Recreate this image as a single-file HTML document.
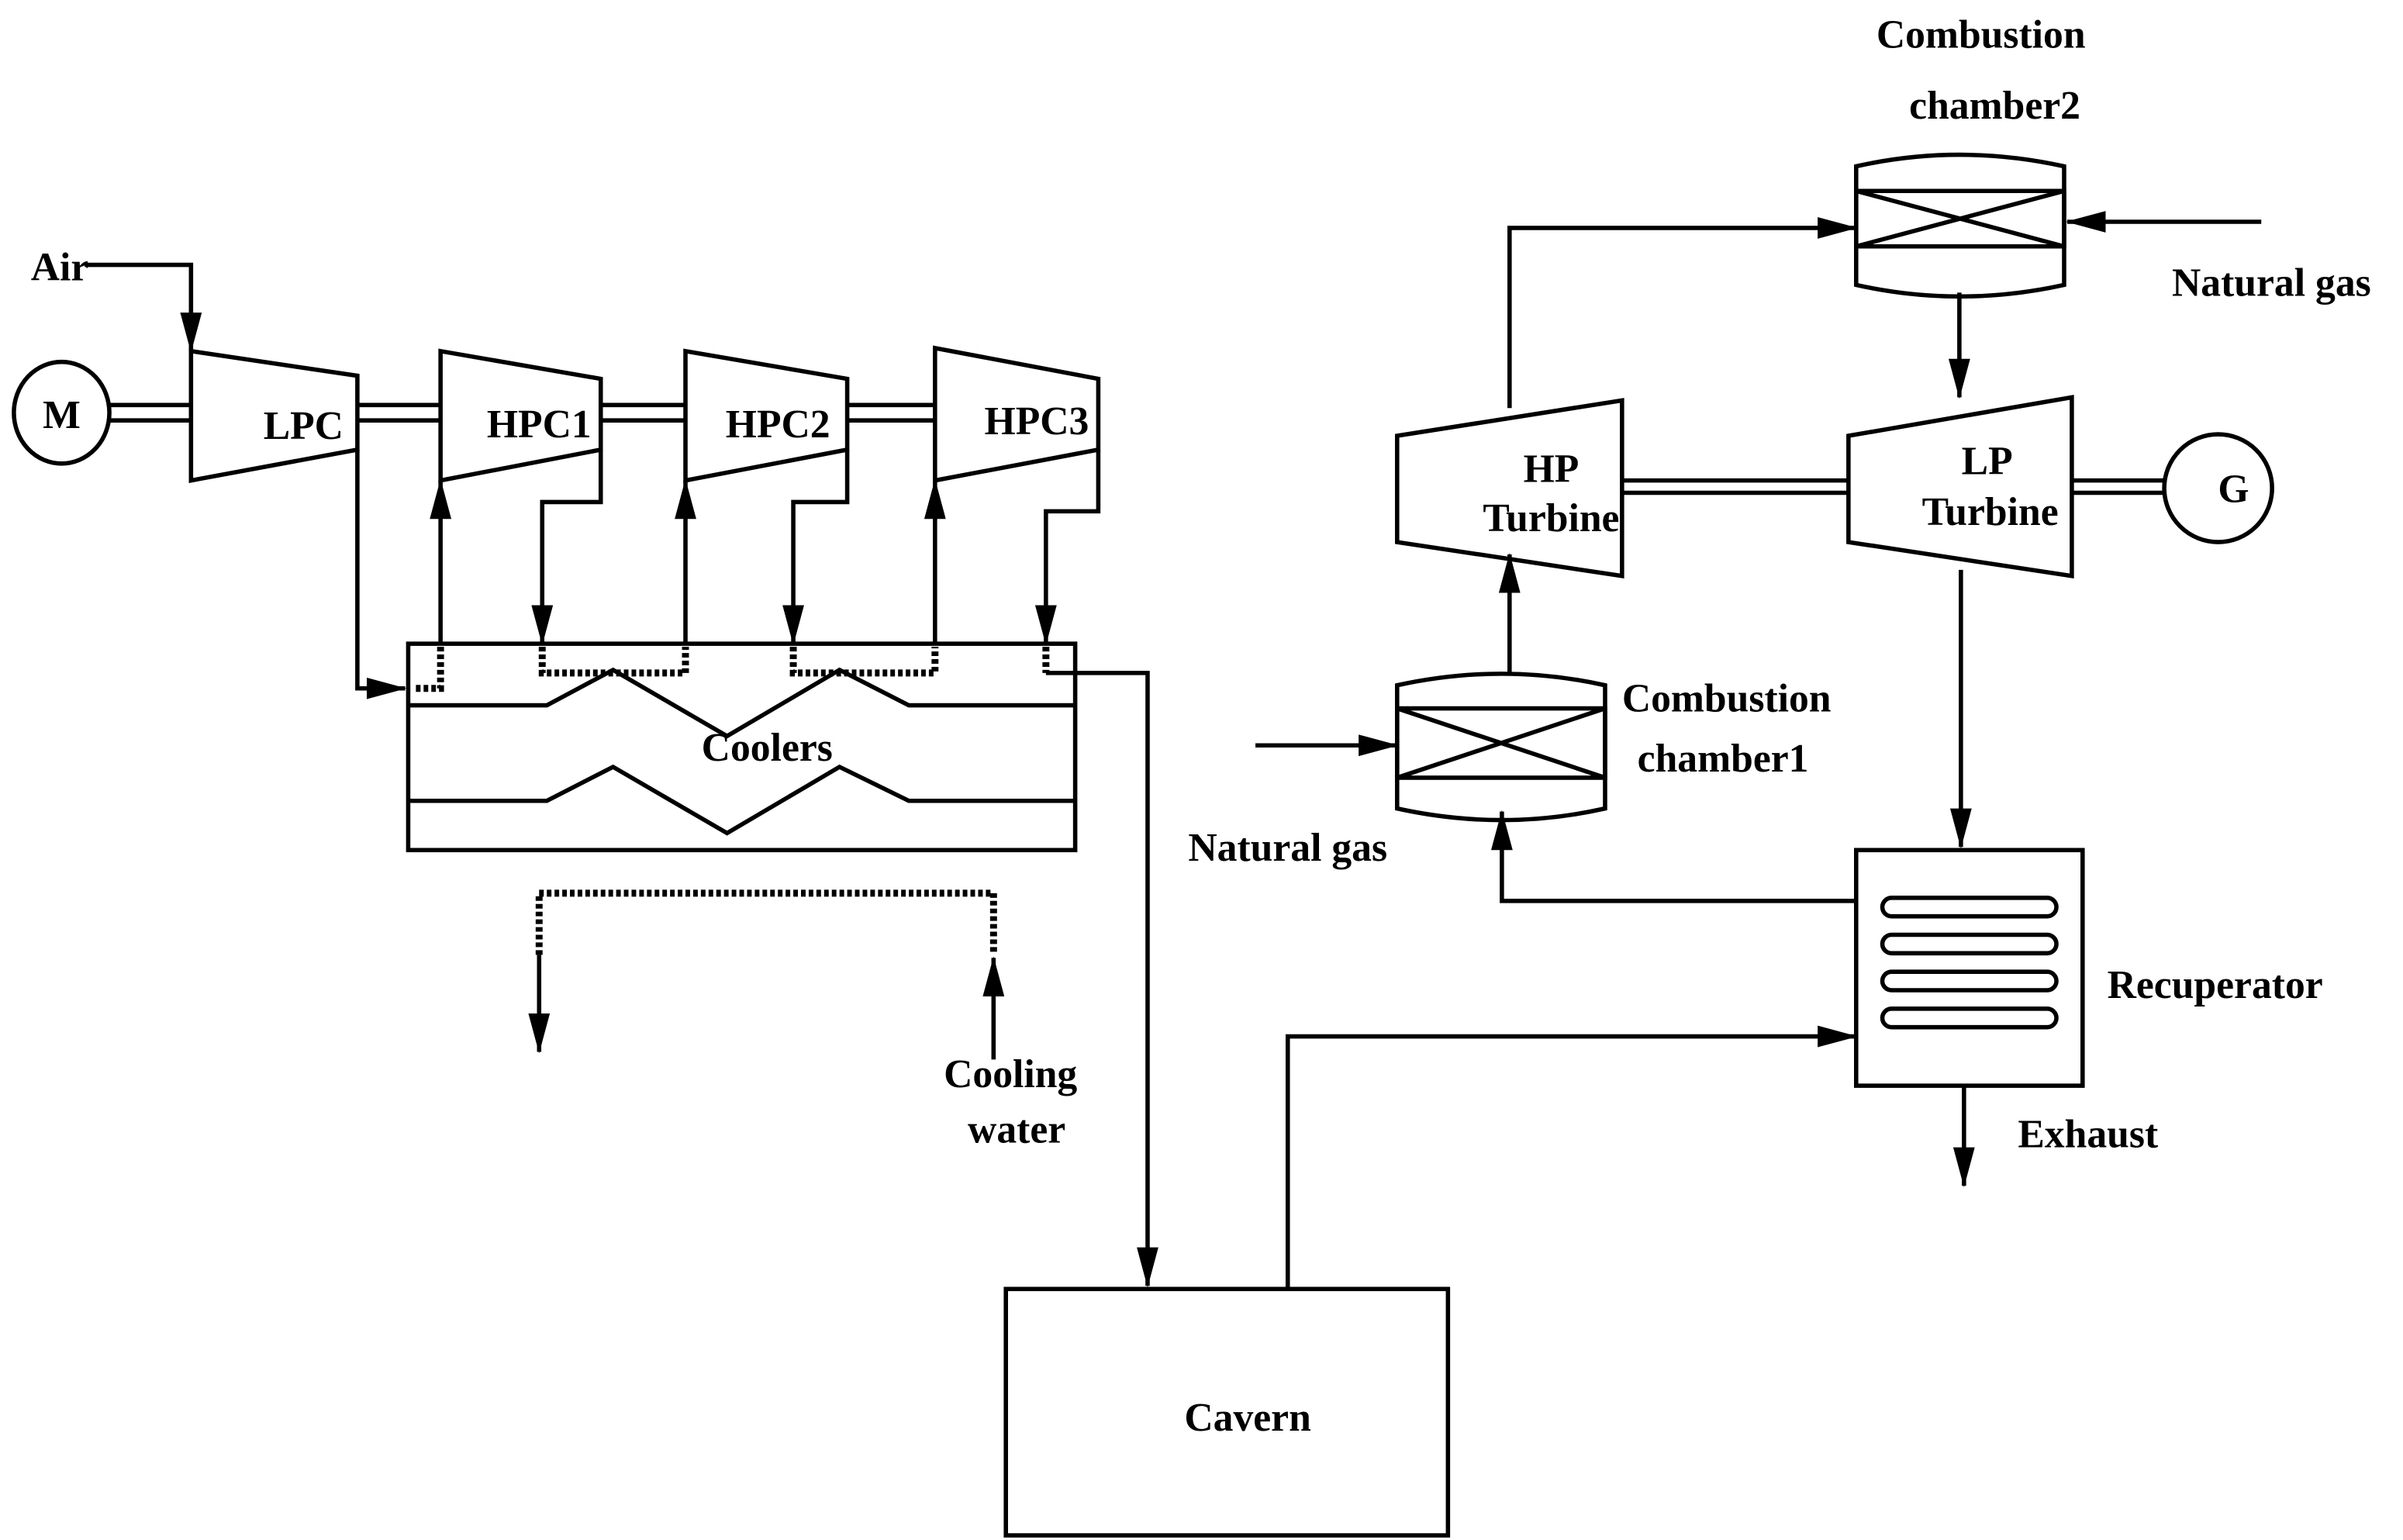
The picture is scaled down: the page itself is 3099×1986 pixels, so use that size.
<!DOCTYPE html>
<html><head><meta charset="utf-8"><style>html,body{margin:0;padding:0;background:#fff}svg{display:block}</style></head><body>
<svg width="3099" height="1986" viewBox="0 0 1560 1000" preserveAspectRatio="none" xmlns="http://www.w3.org/2000/svg">
<defs>
<marker id="b" viewBox="0 0 26 14" refX="25" refY="7" markerWidth="26" markerHeight="14" markerUnits="userSpaceOnUse" orient="auto"><path d="M0,0L26,7L0,14z" fill="#000"/></marker></defs>
<g fill="none" stroke="#000" stroke-width="2.8">
<ellipse cx="40" cy="268" rx="31" ry="33"/>
<path d="M70 263H124M70 273H124"/>
<path d="M124 228L232 244V292L124 312Z"/>
<path d="M232 263H286M232 273H286"/>
<path d="M286 228L390 246V292L286 312Z"/>
<path d="M390 263H445M390 273H445"/>
<path d="M445 228L550 246V292L445 312Z"/>
<path d="M550 263H607M550 273H607"/>
<path d="M607 226L713 246V292L607 312Z"/>
<path d="M55 172H124V228" marker-end="url(#b)"/>
<path d="M232 292V447H263" marker-end="url(#b)"/>
<path d="M286 418V312" marker-end="url(#b)"/>
<path d="M390 292V326H352V418" marker-end="url(#b)"/>
<path d="M445 418V312" marker-end="url(#b)"/>
<path d="M550 292V326H515V418" marker-end="url(#b)"/>
<path d="M607 418V312" marker-end="url(#b)"/>
<path d="M713 292V332H679V418" marker-end="url(#b)"/>
<rect x="265" y="418" width="433" height="134"/>
<path d="M265 458H355L398 435L472 478L545 435L590 458H698"/>
<path d="M265 520H355L398 498L472 541L545 498L590 520H698"/>
<g stroke-width="4.5" stroke-dasharray="3 2"><path d="M286 420V447H270M352 420V437H445V420M515 420V437H607V420M679 420V437"/>
<path d="M350 620V580H645V620"/></g>
<path d="M679 437H745V835" marker-end="url(#b)"/>
<path d="M350 620V683" marker-end="url(#b)"/>
<path d="M645 688V622" marker-end="url(#b)"/>
<rect x="653" y="837" width="287" height="160"/>
<path d="M836 837V673H1205" marker-end="url(#b)"/>
<path d="M815 484H907" marker-end="url(#b)"/>
<path d="M907 445Q975 430 1042 445V525Q975 540 907 525Z"/><path d="M907 460H1042V505H907ZM907 460L1042 505M907 505L1042 460"/>
<path d="M980 437V360" marker-end="url(#b)"/>
<path d="M907 283L1053 260V374L907 352Z"/>
<path d="M980 265V148H1205" marker-end="url(#b)"/>
<path d="M1205 108Q1272 93 1340 108V185Q1272 200 1205 185Z"/><path d="M1205 124H1340V160H1205ZM1205 124L1340 160M1205 160L1340 124"/>
<path d="M1468 144H1342" marker-end="url(#b)"/>
<path d="M1272 190V258" marker-end="url(#b)"/>
<path d="M1200 283L1345 258V374L1200 352Z"/>
<path d="M1053 312H1200M1053 320H1200"/>
<path d="M1345 312H1405M1345 320H1405"/>
<circle cx="1440" cy="317" r="35"/>
<path d="M1273 370V550" marker-end="url(#b)"/>
<rect x="1205" y="552" width="147" height="153"/>
<rect x="1222" y="583" width="113" height="12" rx="6"/>
<rect x="1222" y="607" width="113" height="12" rx="6"/>
<rect x="1222" y="631" width="113" height="12" rx="6"/>
<rect x="1222" y="655" width="113" height="12" rx="6"/>
<path d="M1205 585H975V527" marker-end="url(#b)"/>
<path d="M1275 705V770" marker-end="url(#b)"/>
</g>
<g font-family="Liberation Serif, serif" font-weight="bold" font-size="26" fill="#000">
<text x="20" y="182">Air</text>
<text x="40" y="278" text-anchor="middle">M</text>
<text x="197" y="285" text-anchor="middle">LPC</text>
<text x="350" y="284" text-anchor="middle">HPC1</text>
<text x="505" y="284" text-anchor="middle">HPC2</text>
<text x="673" y="282" text-anchor="middle">HPC3</text>
<text x="498" y="494" text-anchor="middle">Coolers</text>
<text x="656" y="706" text-anchor="middle">Cooling</text>
<text x="660" y="742" text-anchor="middle">water</text>
<text x="810" y="929" text-anchor="middle">Cavern</text>
<text x="836" y="559" text-anchor="middle">Natural gas</text>
<text x="1053" y="462">Combustion</text>
<text x="1063" y="501">chamber1</text>
<text x="1007" y="313" text-anchor="middle">HP</text>
<text x="1007" y="345" text-anchor="middle">Turbine</text>
<text x="1290" y="308" text-anchor="middle">LP</text>
<text x="1292" y="341" text-anchor="middle">Turbine</text>
<text x="1450" y="326" text-anchor="middle">G</text>
<text x="1286" y="31" text-anchor="middle">Combustion</text>
<text x="1295" y="77" text-anchor="middle">chamber2</text>
<text x="1410" y="192">Natural gas</text>
<text x="1368" y="648">Recuperator</text>
<text x="1310" y="745">Exhaust</text>
</g>
</svg>
</body></html>
